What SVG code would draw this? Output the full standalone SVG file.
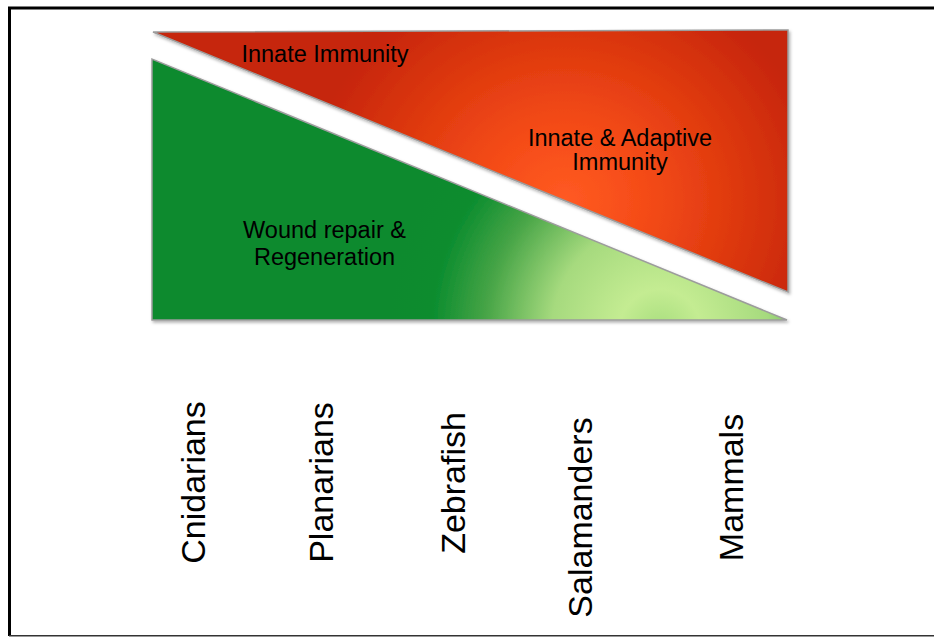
<svg xmlns="http://www.w3.org/2000/svg" width="934" height="638" viewBox="0 0 934 638">
  <defs>
    <radialGradient id="redGrad" gradientUnits="userSpaceOnUse" cx="565" cy="200" r="235" gradientTransform="translate(565 200) scale(1.1 1) translate(-565 -200)">
      <stop offset="0" stop-color="#FF5A22"/>
      <stop offset="0.3" stop-color="#F54C18"/>
      <stop offset="0.6" stop-color="#E23C10"/>
      <stop offset="1" stop-color="#C62508"/>
    </radialGradient>
    <radialGradient id="greenGrad" gradientUnits="userSpaceOnUse" cx="660" cy="330" r="270">
      <stop offset="0" stop-color="#A8DE7E"/>
      <stop offset="0.15" stop-color="#C4EC92"/>
      <stop offset="0.4" stop-color="#A6DA7E"/>
      <stop offset="0.65" stop-color="#46A446"/>
      <stop offset="0.85" stop-color="#0A8C2E"/>
      <stop offset="1" stop-color="#078A2D"/>
    </radialGradient>
    <filter id="shadow" x="-5%" y="-5%" width="110%" height="115%">
      <feDropShadow dx="1.5" dy="2" stdDeviation="1.5" flood-color="#000" flood-opacity="0.3"/>
    </filter>
  </defs>
  <style>
    .tri { stroke: #9C9C9C; stroke-width: 1.5; stroke-linejoin: miter; filter: url(#shadow); }
    .inner { font-family: "Liberation Sans", Arial, sans-serif; font-size: 23.5px; fill: #000; text-anchor: middle; }
    .axis { font-family: "Liberation Sans", Arial, sans-serif; font-size: 34px; fill: #000; text-anchor: middle; }
  </style>

  <rect x="0" y="0" width="934" height="638" fill="#FFFFFF"/>

  <g id="frame" fill="none">
    <line x1="8" y1="8" x2="934" y2="8" stroke="#000" stroke-width="3"/>
    <line x1="9.5" y1="7" x2="9.5" y2="636" stroke="#000" stroke-width="3"/>
    <line x1="9" y1="635.8" x2="934" y2="635.8" stroke="#333" stroke-width="1.5"/>
  </g>

  <g id="innate-immunity">
    <polygon class="tri" points="153,32 788,30 788,292" fill="url(#redGrad)"/>
    <text class="inner" x="325" y="62">Innate Immunity</text>
    <text class="inner" x="620" y="146">Innate &amp; Adaptive</text>
    <text class="inner" x="620" y="170">Immunity</text>
  </g>

  <g id="regeneration">
    <polygon class="tri" points="152,59 152,320 787,320" fill="url(#greenGrad)"/>
    <text class="inner" x="324.5" y="238">Wound repair &amp;</text>
    <text class="inner" x="324.5" y="265">Regeneration</text>
  </g>

  <g id="species">
    <g id="cnidarians"><text class="axis" transform="translate(205 482.5) rotate(-90)">Cnidarians</text></g>
    <g id="planarians"><text class="axis" transform="translate(333 482.5) rotate(-90)">Planarians</text></g>
    <g id="zebrafish"><text class="axis" transform="translate(465 483) rotate(-90)">Zebrafish</text></g>
    <g id="salamanders"><text class="axis" transform="translate(592 517.5) rotate(-90)">Salamanders</text></g>
    <g id="mammals"><text class="axis" transform="translate(743 487.5) rotate(-90)">Mammals</text></g>
  </g>

  <g id="connectors"/>
</svg>
